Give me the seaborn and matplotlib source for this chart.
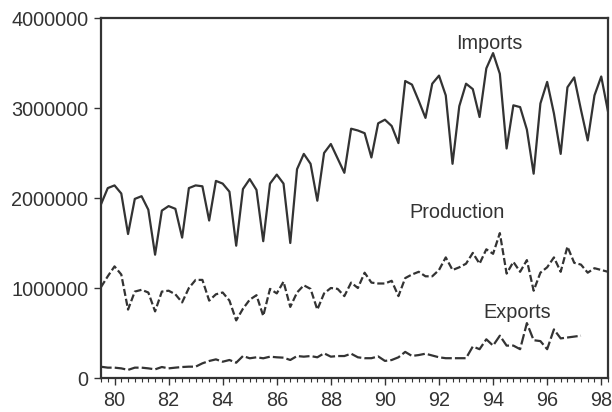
import matplotlib
matplotlib.use("Agg")
import matplotlib.pyplot as plt
import seaborn as sns
import pandas as pd
from matplotlib.ticker import FixedLocator, MultipleLocator

# Quarterly series, 1979Q3 onwards (values in units)
quarters = pd.period_range("1979Q3", "1998Q2", freq="Q")

imports = [1.93, 2.11, 2.14, 2.05, 1.60, 1.99, 2.02, 1.87, 1.37, 1.86,
           1.91, 1.88, 1.56, 2.11, 2.14, 2.13, 1.75, 2.19, 2.16, 2.07,
           1.47, 2.10, 2.21, 2.09, 1.52, 2.16, 2.26, 2.16, 1.50, 2.32,
           2.49, 2.38, 1.97, 2.50, 2.60, 2.44, 2.28, 2.77, 2.75, 2.72,
           2.45, 2.83, 2.87, 2.80, 2.61, 3.30, 3.26, 3.08, 2.89, 3.27,
           3.36, 3.14, 2.38, 3.02, 3.27, 3.21, 2.90, 3.44, 3.61, 3.38,
           2.55, 3.03, 3.01, 2.76, 2.27, 3.05, 3.29, 2.94, 2.49, 3.23,
           3.34, 2.98, 2.64, 3.14, 3.35, 2.96]

production = [1.01, 1.13, 1.24, 1.15, 0.76, 0.96, 0.98, 0.95, 0.74, 0.96,
              0.97, 0.93, 0.84, 1.00, 1.09, 1.09, 0.86, 0.93, 0.95, 0.86,
              0.64, 0.77, 0.87, 0.92, 0.69, 0.99, 0.94, 1.07, 0.79, 0.95,
              1.03, 0.99, 0.76, 0.94, 1.00, 0.99, 0.91, 1.06, 1.00, 1.17,
              1.06, 1.05, 1.05, 1.08, 0.91, 1.11, 1.15, 1.18, 1.13, 1.13,
              1.20, 1.34, 1.20, 1.23, 1.27, 1.39, 1.27, 1.43, 1.38, 1.61,
              1.16, 1.29, 1.18, 1.31, 0.97, 1.17, 1.23, 1.34, 1.18, 1.46,
              1.28, 1.26, 1.17, 1.22, 1.20, 1.18]

exports = [0.125, 0.115, 0.115, 0.107, 0.090, 0.115, 0.115, 0.107, 0.096, 0.122,
           0.107, 0.115, 0.122, 0.126, 0.126, 0.163, 0.189, 0.207, 0.181, 0.200,
           0.170, 0.244, 0.219, 0.230, 0.219, 0.237, 0.230, 0.226, 0.200, 0.244,
           0.237, 0.244, 0.230, 0.274, 0.237, 0.244, 0.244, 0.270, 0.230, 0.220,
           0.220, 0.240, 0.190, 0.200, 0.230, 0.290, 0.245, 0.255, 0.270, 0.250,
           0.230, 0.220, 0.220, 0.220, 0.220, 0.350, 0.320, 0.430, 0.360, 0.470,
           0.360, 0.360, 0.320, 0.610, 0.420, 0.410, 0.320, 0.540, 0.440, 0.450,
           0.460, 0.470]

SCALE = 1_000_000
year_ticks = list(range(1980, 1999, 2))
year_labels = [f"{y % 100:02d}" for y in year_ticks]
y_ticks = [0, 1_000_000, 2_000_000, 3_000_000, 4_000_000]

t = [p.year + (p.quarter - 1) / 4 for p in quarters]

frames = []
for name, vals in [("Imports", imports), ("Production", production), ("Exports", exports)]:
    frames.append(pd.DataFrame({"t": t[:len(vals)],
                                "value": [v * SCALE for v in vals],
                                "series": name}))
df = pd.concat(frames, ignore_index=True)

sns.set_theme(style="white")
plt.rcParams["font.family"] = ["Liberation Sans", "DejaVu Sans"]

ink = "#333333"
fs = 14.3
fig = plt.figure(figsize=(6.12, 4.12), dpi=100)
ax = fig.add_axes([101 / 612, 34 / 412, 507 / 612, 360 / 412])

sns.lineplot(data=df, x="t", y="value", hue="series", style="series",
             palette={"Imports": ink, "Production": ink, "Exports": ink},
             dashes={"Imports": "", "Production": (3.2, 1.3), "Exports": (4.8, 1.4)},
             linewidth=1.6, legend=False, ax=ax)

ax.set_xlim(t[0], t[-1])
ax.set_ylim(0, 4_000_000)
ax.set_xlabel("")
ax.set_ylabel("")

ax.xaxis.set_major_locator(FixedLocator(year_ticks))
ax.set_xticklabels(year_labels)
ax.xaxis.set_minor_locator(MultipleLocator(0.25))
ax.yaxis.set_major_locator(FixedLocator(y_ticks))
ax.set_yticklabels([str(v) for v in y_ticks])

ax.tick_params(axis="both", which="major", direction="out", length=5, width=1.0,
               color=ink, labelcolor=ink, labelsize=fs)
ax.tick_params(axis="x", which="minor", direction="out", length=3, width=0.8,
               color=ink, bottom=True)
ax.tick_params(axis="x", which="major", bottom=True, pad=4)
ax.tick_params(axis="y", which="major", left=True, pad=4)

for side in ["left", "right", "top", "bottom"]:
    ax.spines[side].set_visible(True)
    ax.spines[side].set_color(ink)
    ax.spines[side].set_linewidth(1.6)

ax.grid(False)

# Series labels placed next to their lines
ax.text(1993.85, 3.72 * SCALE, "Imports", fontsize=fs, color=ink, ha="center", va="center")
ax.text(1992.65, 1.84 * SCALE, "Production", fontsize=fs, color=ink, ha="center", va="center")
ax.text(1994.9, 0.73 * SCALE, "Exports", fontsize=fs, color=ink, ha="center", va="center")

fig.savefig("out.png", dpi=100, facecolor="white")
